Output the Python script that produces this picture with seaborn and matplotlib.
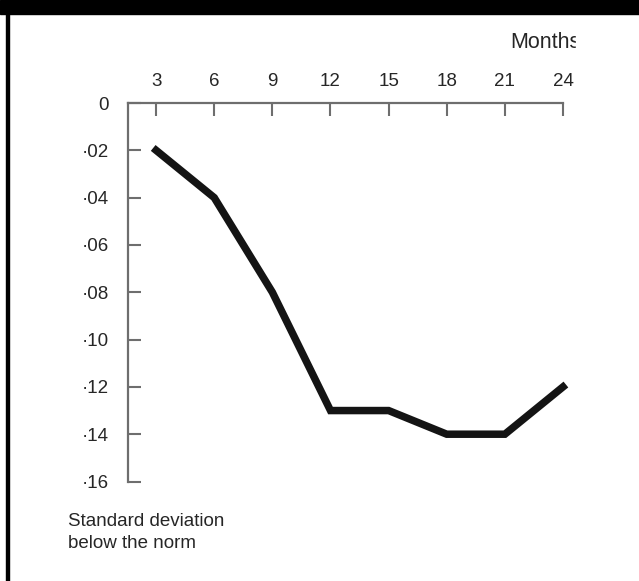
import pandas as pd
import seaborn as sns
import matplotlib.pyplot as plt
from matplotlib.patches import Rectangle

# values
months = [3, 6, 9, 12, 15, 18, 21, 24]
sd_below = [-0.2, -0.4, -0.8, -1.3, -1.3, -1.4, -1.4, -1.2]
y_ticks = [0, -0.2, -0.4, -0.6, -0.8, -1.0, -1.2, -1.4, -1.6]
y_labels = ["0", "·02", "·04", "·06", "·08", "·10", "·12", "·14", "·16"]

df = pd.DataFrame({"months": months, "sd": sd_below})

sns.set_style("white")
plt.rcParams["font.family"] = ["Liberation Sans", "DejaVu Sans"]

fig = plt.figure(figsize=(6.39, 5.81), dpi=100)
W, H = 639, 581
ax = fig.add_axes([128 / W, 1 - 482 / H, (563 - 128) / W, (482 - 103) / H])

sns.lineplot(data=df, x="months", y="sd", ax=ax, color="#141414",
             linewidth=5.4, solid_capstyle="projecting",
             solid_joinstyle="miter", clip_on=False)

ax.set_xlim(1.55, 24)
ax.set_ylim(-1.602, 0)
ax.xaxis.tick_top()
ax.set_xticks(months)
ax.set_xticklabels([str(m) for m in months])
ax.set_yticks(y_ticks)
ax.set_yticklabels(y_labels)
ax.set_xlabel("")
ax.set_ylabel("")

grey = "#6e6e6e"
for side in ["bottom", "right"]:
    ax.spines[side].set_visible(False)
for side in ["top", "left"]:
    ax.spines[side].set_color(grey)
    ax.spines[side].set_linewidth(1.6)

ax.tick_params(axis="x", direction="in", length=9, width=1.5, color=grey,
               pad=9, labelsize=13.5, labelcolor="#262626",
               top=True, bottom=False, labeltop=True, labelbottom=False)
ax.tick_params(axis="y", direction="in", length=9, width=1.5, color=grey,
               pad=14, labelsize=13.5, labelcolor="#262626",
               left=True, labelleft=True)

fig.text(510 / W, 1 - 42 / H, "Months", fontsize=15.5, color="#262626",
         ha="left", va="center")
fig.text(68 / W, 1 - 513 / H, "Standard deviation\nbelow the norm",
         fontsize=13.5, color="#262626", ha="left", va="top", linespacing=1.35)

# the source image is cut off on the right of the labels
fig.patches.append(Rectangle((576 / W, 1 - 100 / H), 1, 90 / H,
                             transform=fig.transFigure, color="white",
                             zorder=5))
# black frame: top band and left rule
fig.patches.append(Rectangle((0, 1 - 14 / H), 1, 14 / H,
                             transform=fig.transFigure, color="black",
                             zorder=6))
fig.patches.append(Rectangle((6 / W, 0), 3 / W, 1,
                             transform=fig.transFigure, color="black",
                             zorder=6))

fig.savefig("out.png", dpi=100, facecolor="white")
